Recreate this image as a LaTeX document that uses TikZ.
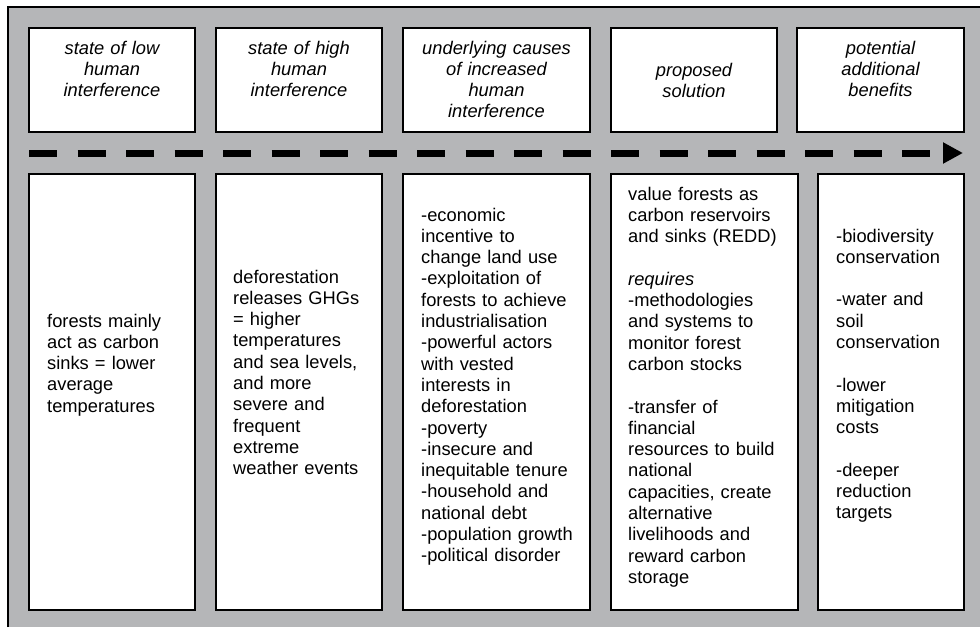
\documentclass[tikz,border=0pt]{standalone}
\usepackage{fontspec}
\setmainfont{Liberation Sans}
\usetikzlibrary{positioning, arrows.meta}
\definecolor{framegray}{RGB}{181,182,184}
\newcommand{\diagfont}{\fontsize{18.3pt}{21.3pt}\selectfont}

\begin{document}
\begin{tikzpicture}[x=1pt, y=-1pt, node distance=21pt,
    stage/.style={rectangle, draw, fill=white, line width=1.6pt, outer sep=0pt, inner sep=0pt},
    headbox/.style={stage, minimum width=166pt, minimum height=104pt},
    bodybox/.style={stage, minimum height=436pt},
    heading/.style={anchor=base, text width=160pt, align=center, inner sep=0pt, font=\diagfont\itshape},
    detail/.style={anchor=base west, text width=165pt, align=left, inner sep=0pt, font=\diagfont}]

  \useasboundingbox (0,0) rectangle (980,627);
  \fill[framegray] (8,7) rectangle (980,627);
  \draw[line width=1.3pt] (8,627) -- (8,7) -- (980,7);

  \node[headbox] (top1) at (112,80) {};
  \node[headbox, right=of top1] (top2) {};
  \node[headbox, minimum width=187pt, right=of top2] (top3) {};
  \node[headbox, right=of top3] (top4) {};
  \node[headbox, minimum width=167pt, right=20pt of top4] (top5) {};

  \node[bodybox, minimum width=166pt, below=42pt of top1] (bot1) {};
  \node[bodybox, minimum width=166pt, right=of bot1] (bot2) {};
  \node[bodybox, minimum width=187pt, right=of bot2] (bot3) {};
  \node[bodybox, minimum width=187pt, right=of bot3] (bot4) {};
  \node[bodybox, minimum width=146pt, right=20pt of bot4] (bot5) {};

  \coordinate (flowstart) at (29,153);
  \coordinate (flowend) at (963,153);
  \draw[line width=7pt, dash pattern=on 28pt off 20.5pt,
    -{Triangle[length=20pt, width=20pt]}] (flowstart) -- (flowend);

  \node[heading] (head1) at ([yshift=-26pt]top1.north) {state of low\\human\\interference};
  \node[heading] (head2) at ([yshift=-26pt]top2.north) {state of high\\human\\interference};
  \node[heading] (head3) at ([yshift=-26pt]top3.north) {underlying causes\\of increased\\human\\interference};
  \node[heading] (head4) at ([yshift=-48pt]top4.north) {proposed\\solution};
  \node[heading] (head5) at ([yshift=-26pt]top5.north) {potential\\additional\\benefits};

  \node[detail] (body1) at ([xshift=18pt, yshift=-153pt]bot1.north west)
    {forests mainly\\act as carbon\\sinks = lower\\average\\temperatures};
  \node[detail] (body2) at ([xshift=17pt, yshift=-109pt]bot2.north west)
    {deforestation\\releases GHGs\\= higher\\temperatures\\and sea levels,\\and more\\severe and\\frequent\\extreme\\weather events};
  \node[detail] (body3) at ([xshift=18pt, yshift=-47pt]bot3.north west)
    {-economic\\incentive to\\change land use\\-exploitation of\\forests to achieve\\industrialisation\\-powerful actors\\with vested\\interests in\\deforestation\\-poverty\\-insecure and\\inequitable tenure\\-household and\\national debt\\-population growth\\-political disorder};
  \node[detail] (body4) at ([xshift=17pt, yshift=-26pt]bot4.north west)
    {value forests as\\carbon reservoirs\\and sinks (REDD)\\[21.3pt]\textit{requires}\\-methodologies\\and systems to\\monitor forest\\carbon stocks\\[21.3pt]-transfer of\\financial\\resources to build\\national\\capacities, create\\alternative\\livelihoods and\\reward carbon\\storage};
  \node[detail] (body5) at ([xshift=18pt, yshift=-68pt]bot5.north west)
    {-biodiversity\\conservation\\[21.3pt]-water and\\soil\\conservation\\[21.3pt]-lower\\mitigation\\costs\\[21.3pt]-deeper\\reduction\\targets};
\end{tikzpicture}
\end{document}
